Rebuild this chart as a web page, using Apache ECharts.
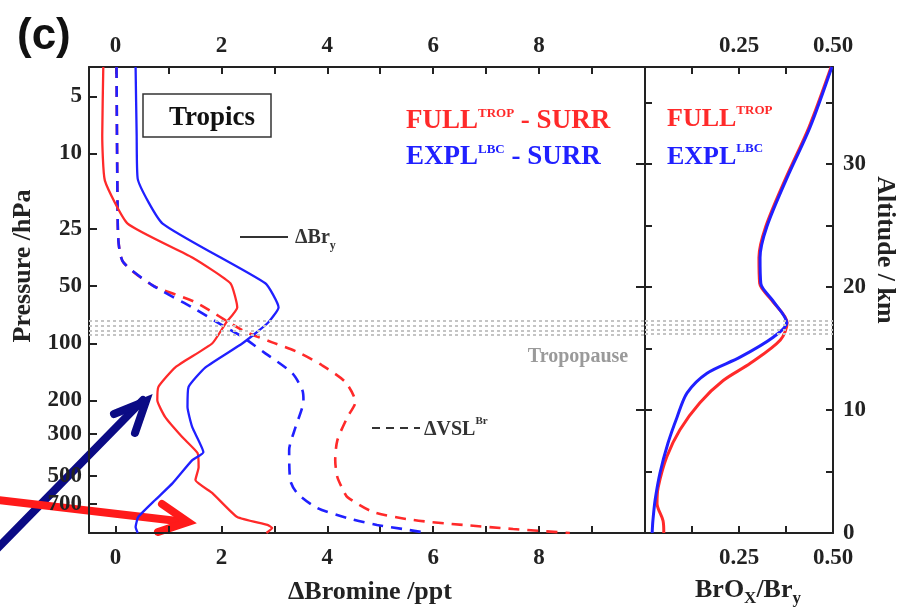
<!DOCTYPE html>
<html>
<head>
<meta charset="utf-8">
<script src="https://cdn.jsdelivr.net/npm/echarts@6/dist/echarts.min.js"></script>
<style>
  html, body { margin: 0; padding: 0; background: #fff; }
  #myChart { width: 902px; height: 614px; }
</style>
</head>
<body>
<div id="myChart"></div>
<script>
// left panel: Δ bromine (ppt) against pressure (hPa)
var fullBryP = [3.5, 8, 13.9, 23.4, 35.3, 48.3, 64.7, 78.5, 100, 134, 170, 200, 245, 312, 379, 450, 526, 616, 824, 907, 941, 1000];
var fullBryX = [-0.23, -0.25, -0.2, 0.23, 1.45, 2.17, 2.3, 2.08, 1.83, 1.13, 0.81, 0.79, 0.94, 1.26, 1.55, 1.57, 1.51, 1.83, 2.3, 2.87, 2.96, 2.85];

var explBryP = [3.5, 8, 13.6, 23.4, 48.3, 64.7, 78.5, 100, 134, 170, 217, 277, 375, 413, 546, 670, 824, 930, 1000];
var explBryX = [0.38, 0.4, 0.42, 0.89, 2.83, 3.08, 2.87, 2.4, 1.7, 1.38, 1.36, 1.45, 1.66, 1.45, 1.08, 0.75, 0.43, 0.38, 0.42];

var explVslP = [3.5, 20, 29.8, 37.5, 49.5, 64.7, 80.6, 92.8, 113, 144, 177, 200, 277, 366, 526, 616, 738, 834, 907, 953, 1000];
var explVslX = [0.02, 0.04, 0.06, 0.15, 0.7, 1.45, 2.02, 2.4, 2.83, 3.34, 3.53, 3.55, 3.4, 3.28, 3.3, 3.43, 3.81, 4.38, 4.94, 5.43, 5.89];

var fullVslP = [3.5, 20, 29.8, 37.5, 49.5, 60.8, 85.5, 98.9, 111, 130.6, 160, 204, 245, 325, 413, 507, 594, 647, 775, 854, 907, 953, 1000];
var fullVslX = [0.02, 0.04, 0.06, 0.15, 0.7, 1.51, 2.4, 2.96, 3.43, 3.9, 4.34, 4.53, 4.38, 4.19, 4.15, 4.19, 4.3, 4.38, 4.87, 5.62, 6.57, 7.51, 8.58];

// right panel: BrOx/Bry against altitude (km)
var explRatioZ = [37.9, 33, 28.9, 24.9, 22.4, 20.3, 18.9, 17.1, 15.9, 14.3, 13, 11.4, 9.4, 7.3, 4.9, 2.7, 1.0, 0];
var explRatio = [0.497, 0.439, 0.378, 0.324, 0.306, 0.308, 0.34, 0.377, 0.34, 0.253, 0.165, 0.112, 0.085, 0.061, 0.04, 0.027, 0.021, 0.019];
var fullRatioZ = [37.9, 33, 28.9, 24.9, 22.4, 20.3, 18.9, 17.1, 15.7, 13.8, 12.4, 10.6, 8.4, 6.2, 3.7, 2.4, 1.0, 0];
var fullRatio = [0.495, 0.436, 0.375, 0.321, 0.303, 0.305, 0.338, 0.378, 0.36, 0.28, 0.208, 0.146, 0.093, 0.058, 0.035, 0.032, 0.048, 0.05];

// ticks
var pressureTicks = [5, 10, 25, 50, 100, 200, 300, 500, 700];
var bromineLabels = [0, 2, 4, 6, 8];
var bromineTicks = [0, 1, 2, 3, 4, 5, 6, 7, 8, 9];
var ratioLabels = [0.25, 0.5];
var ratioTicks = [0.125, 0.25, 0.375];
var altitudeLabels = [0, 10, 20, 30];
var altitudeTicks = [5, 10, 15, 20, 25, 30, 35];

// tropopause band (dotted lines)
var tropopauseP = [75.7, 80.4, 85.5, 89.8];
var tropopauseZ = [17.3, 16.9, 16.5, 16.2];

var RED = "#ff2a2a";
var BLUE = "#2020ff";
var INK = "#222";
var SERIF = "Liberation Serif";

function zip(xs, ys) {
  var out = [];
  for (var i = 0; i < xs.length; i++) {
    out.push([xs[i], ys[i]]);
  }
  return out;
}

var labelStyle = { fontFamily: SERIF, fontWeight: "bold", fontSize: 23, color: INK };
var lineStyleAxis = { color: INK, width: 2 };

function xAx(grid, pos, min, max, labels, ticks, fmt) {
  return {
    type: "value", gridIndex: grid, position: pos, min: min, max: max,
    axisLine: { show: true, onZero: false, lineStyle: lineStyleAxis },
    axisTick: { show: true, inside: true, length: 7, customValues: ticks, lineStyle: lineStyleAxis },
    axisLabel: Object.assign({ customValues: labels, margin: pos === "top" ? 9 : 14, formatter: fmt }, labelStyle),
    splitLine: { show: false },
  };
}

var tropLine = { type: [3, 3], color: "#c4c4c4", width: 2 };

var myChart = echarts.init(document.getElementById("myChart"));
var option = {
  backgroundColor: "#fff",
  animation: false,
  grid: [
    { left: 89, top: 67, width: 556, height: 466 },
    { left: 645, top: 67, width: 188, height: 466 },
  ],
  xAxis: [
    xAx(0, "bottom", -0.5, 10, bromineLabels, bromineTicks),
    xAx(0, "top", -0.5, 10, bromineLabels, bromineTicks),
    xAx(1, "bottom", 0, 0.5, ratioLabels, ratioTicks, function (v) { return v.toFixed(2); }),
    xAx(1, "top", 0, 0.5, ratioLabels, ratioTicks, function (v) { return v.toFixed(2); }),
  ],
  yAxis: [
    {
      type: "log", gridIndex: 0, position: "left", inverse: true, min: 3.5, max: 1000, logBase: 10,
      axisLine: { show: true, onZero: false, lineStyle: lineStyleAxis },
      axisTick: { show: true, inside: true, length: 8, customValues: pressureTicks, lineStyle: lineStyleAxis },
      axisLabel: Object.assign({ customValues: pressureTicks, margin: 7 }, labelStyle),
      splitLine: { show: false },
    },
    {
      type: "value", gridIndex: 0, position: "right", min: 0, max: 37.9,
      axisLine: { show: true, onZero: false, lineStyle: lineStyleAxis },
      axisTick: { show: true, inside: true, length: 9, customValues: [10, 20, 30], lineStyle: lineStyleAxis },
      axisLabel: { show: false },
      splitLine: { show: false },
    },
    {
      type: "value", gridIndex: 1, position: "left", min: 0, max: 37.9,
      axisLine: { show: true, onZero: false, lineStyle: lineStyleAxis },
      axisTick: { show: true, inside: true, length: 7, customValues: altitudeTicks, lineStyle: lineStyleAxis },
      axisLabel: { show: false },
      splitLine: { show: false },
    },
    {
      type: "value", gridIndex: 1, position: "right", min: 0, max: 37.9,
      axisLine: { show: true, onZero: false, lineStyle: lineStyleAxis },
      axisTick: { show: true, inside: true, length: 7, customValues: altitudeTicks, lineStyle: lineStyleAxis },
      axisLabel: Object.assign({ customValues: altitudeLabels, margin: 10 }, labelStyle),
      splitLine: { show: false },
    },
  ],
  series: [
    {
      name: "tropopause left", type: "line", xAxisIndex: 0, yAxisIndex: 0, data: [], silent: true,
      markLine: {
        silent: true, symbol: "none", label: { show: false }, lineStyle: tropLine,
        data: tropopauseP.map(function (p) { return { yAxis: p }; }),
      },
    },
    {
      name: "tropopause right", type: "line", xAxisIndex: 2, yAxisIndex: 2, data: [], silent: true,
      markLine: {
        silent: true, symbol: "none", label: { show: false }, lineStyle: tropLine,
        data: tropopauseZ.map(function (z) { return { yAxis: z }; }),
      },
    },
    {
      name: "FULL dVSL", type: "line", xAxisIndex: 0, yAxisIndex: 0, showSymbol: false, smooth: 0.25,
      lineStyle: { color: RED, width: 2.6, type: [11, 8] }, data: zip(fullVslX, fullVslP),
    },
    {
      name: "EXPL dVSL", type: "line", xAxisIndex: 0, yAxisIndex: 0, showSymbol: false, smooth: 0.25,
      lineStyle: { color: BLUE, width: 2.6, type: [11, 8] }, data: zip(explVslX, explVslP),
    },
    {
      name: "FULL dBry", type: "line", xAxisIndex: 0, yAxisIndex: 0, showSymbol: false, smooth: 0.15,
      lineStyle: { color: RED, width: 2.3 }, data: zip(fullBryX, fullBryP),
    },
    {
      name: "EXPL dBry", type: "line", xAxisIndex: 0, yAxisIndex: 0, showSymbol: false, smooth: 0.15,
      lineStyle: { color: BLUE, width: 2.3 }, data: zip(explBryX, explBryP),
    },
    {
      name: "FULL ratio", type: "line", xAxisIndex: 2, yAxisIndex: 2, showSymbol: false, smooth: 0.3,
      lineStyle: { color: RED, width: 3 }, data: zip(fullRatio, fullRatioZ),
    },
    {
      name: "EXPL ratio", type: "line", xAxisIndex: 2, yAxisIndex: 2, showSymbol: false, smooth: 0.3,
      lineStyle: { color: BLUE, width: 3 }, data: zip(explRatio, explRatioZ),
    },
  ],
  graphic: [
    { type: "text", x: 17, y: 37, style: { text: "(c)", fill: "#111", font: "bold 44px 'Liberation Sans'", textVerticalAlign: "middle" } },
    { type: "text", x: 23, y: 266, rotation: Math.PI / 2, style: { text: "Pressure /hPa", fill: INK, font: "bold 26px 'Liberation Serif'", textAlign: "center", textVerticalAlign: "middle" } },
    { type: "text", x: 885, y: 250, rotation: -Math.PI / 2, style: { text: "Altitude / km", fill: INK, font: "bold 26px 'Liberation Serif'", textAlign: "center", textVerticalAlign: "middle" } },
    { type: "text", x: 370, y: 592, style: { text: "\u0394Bromine /ppt", fill: INK, font: "bold 26px 'Liberation Serif'", textAlign: "center", textVerticalAlign: "middle" } },
    {
      type: "text", x: 748, y: 592,
      style: {
        text: "{a|BrO}{b|X}{a|/Br}{b|y}", textAlign: "center", textVerticalAlign: "middle",
        rich: {
          a: { fontFamily: SERIF, fontWeight: "bold", fontSize: 26, fill: INK, lineHeight: 30, verticalAlign: "top" },
          b: { fontFamily: SERIF, fontWeight: "bold", fontSize: 17, fill: INK, lineHeight: 30, verticalAlign: "bottom" },
        },
      },
    },
    // Tropics box
    { type: "rect", shape: { x: 143, y: 94, width: 128, height: 43 }, style: { fill: "#fff", stroke: "#333", lineWidth: 1.5 } },
    { type: "text", x: 212, y: 118, style: { text: "Tropics", fill: "#111", font: "bold 27px 'Liberation Serif'", textAlign: "center", textVerticalAlign: "middle" } },
    // left legend
    {
      type: "text", x: 406, y: 121,
      style: {
        text: "{a|FULL}{s|TROP}{a| - SURR}", textVerticalAlign: "middle",
        rich: {
          a: { fontFamily: SERIF, fontWeight: "bold", fontSize: 27, fill: RED, lineHeight: 28, verticalAlign: "bottom" },
          s: { fontFamily: SERIF, fontWeight: "bold", fontSize: 13, fill: RED, lineHeight: 28, verticalAlign: "top" },
        },
      },
    },
    {
      type: "text", x: 406, y: 157,
      style: {
        text: "{a|EXPL}{s|LBC}{a| - SURR}", textVerticalAlign: "middle",
        rich: {
          a: { fontFamily: SERIF, fontWeight: "bold", fontSize: 27, fill: BLUE, lineHeight: 28, verticalAlign: "bottom" },
          s: { fontFamily: SERIF, fontWeight: "bold", fontSize: 13, fill: BLUE, lineHeight: 28, verticalAlign: "top" },
        },
      },
    },
    // right legend
    {
      type: "text", x: 667, y: 118,
      style: {
        text: "{a|FULL}{s|TROP}", textVerticalAlign: "middle",
        rich: {
          a: { fontFamily: SERIF, fontWeight: "bold", fontSize: 26, fill: RED, lineHeight: 28, verticalAlign: "bottom" },
          s: { fontFamily: SERIF, fontWeight: "bold", fontSize: 13, fill: RED, lineHeight: 28, verticalAlign: "top" },
        },
      },
    },
    {
      type: "text", x: 667, y: 156,
      style: {
        text: "{a|EXPL}{s|LBC}", textVerticalAlign: "middle",
        rich: {
          a: { fontFamily: SERIF, fontWeight: "bold", fontSize: 26, fill: BLUE, lineHeight: 28, verticalAlign: "bottom" },
          s: { fontFamily: SERIF, fontWeight: "bold", fontSize: 13, fill: BLUE, lineHeight: 28, verticalAlign: "top" },
        },
      },
    },
    // line style keys
    { type: "line", shape: { x1: 240, y1: 237, x2: 288, y2: 237 }, style: { stroke: "#333", lineWidth: 2 } },
    {
      type: "text", x: 295, y: 240,
      style: {
        text: "{a|\u0394Br}{b|y}", textVerticalAlign: "middle",
        rich: {
          a: { fontFamily: SERIF, fontWeight: "bold", fontSize: 20, fill: "#333", lineHeight: 24, verticalAlign: "top" },
          b: { fontFamily: SERIF, fontWeight: "bold", fontSize: 12, fill: "#333", lineHeight: 24, verticalAlign: "bottom" },
        },
      },
    },
    { type: "line", shape: { x1: 372, y1: 428, x2: 420, y2: 428 }, style: { stroke: "#333", lineWidth: 2, lineDash: [8, 6] } },
    {
      type: "text", x: 424, y: 428,
      style: {
        text: "{a|\u0394VSL}{s|Br}", textVerticalAlign: "middle",
        rich: {
          a: { fontFamily: SERIF, fontWeight: "bold", fontSize: 20, fill: "#333", lineHeight: 24, verticalAlign: "bottom" },
          s: { fontFamily: SERIF, fontWeight: "bold", fontSize: 11, fill: "#333", lineHeight: 24, verticalAlign: "top" },
        },
      },
    },
    { type: "text", x: 578, y: 357, style: { text: "Tropopause", fill: "#9a9a9a", font: "bold 20px 'Liberation Serif'", textAlign: "center", textVerticalAlign: "middle" } },
    // annotation arrows
    { type: "polyline", shape: { points: [[-10, 556], [143, 400]] }, style: { stroke: "#0b0b85", lineWidth: 8, lineCap: "round" } },
    { type: "polyline", shape: { points: [[114, 414], [146, 401], [135, 433]] }, style: { stroke: "#0b0b85", fill: null, lineWidth: 8, lineCap: "round", lineJoin: "miter" } },
    { type: "polyline", shape: { points: [[-10, 499], [186, 522]] }, style: { stroke: "#ff1a1a", lineWidth: 8, lineCap: "round" } },
    { type: "polyline", shape: { points: [[162, 504], [188, 522], [158, 532]] }, style: { stroke: "#ff1a1a", fill: null, lineWidth: 8, lineCap: "round", lineJoin: "miter" } },
  ],
};
myChart.setOption(option);
</script>
</body>
</html>
